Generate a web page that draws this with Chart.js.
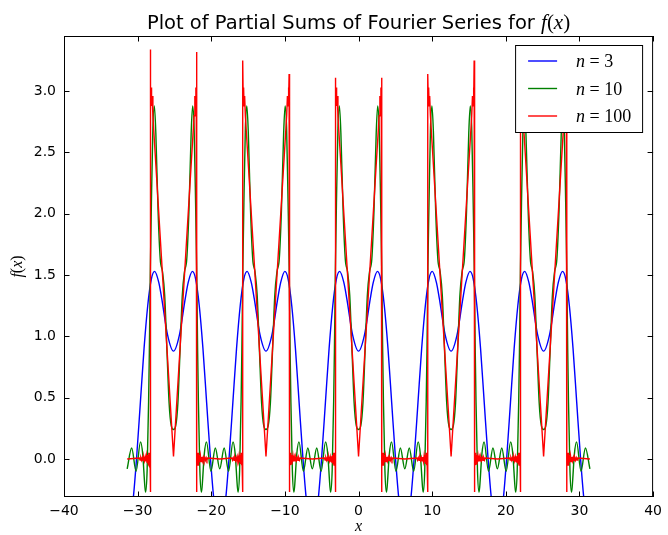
<!DOCTYPE html>
<html>
<head>
<meta charset="utf-8">
<script src="https://cdn.jsdelivr.net/npm/chart.js@4.4.1/dist/chart.umd.min.js"></script>
<style>
  html, body { margin: 0; padding: 0; background: #fff; }
</style>
</head>
<body>
<canvas id="fourier" width="668" height="535"></canvas>
<script>
// tick values
const xTicks = [-40, -30, -20, -10, 0, 10, 20, 30, 40];
const yTicks = [0, 0.5, 1, 1.5, 2, 2.5, 3];
const seriesLabels = ['n=3', 'n=10', 'n=100'];
const seriesColors = ['#0000ff', '#008000', '#ff0000'];

// n = 3  (x, f)
const blue = [
  [-31.42,-0.58],[-30.63,-0.34],[-30.13,0.02],[-29.63,0.46],[-29.13,0.90],[-28.63,1.25],[-28.13,1.47],[-27.69,1.53],[-27.13,1.44],[-26.73,1.31],[-25.93,1.01],[-25.13,0.88],[-24.33,1.01],[-23.53,1.31],[-23.13,1.44],[-22.57,1.53],[-22.13,1.47],[-21.63,1.25],[-21.13,0.90],[-20.63,0.46],[-20.13,0.02],[-19.63,-0.34],
  [-18.85,-0.58],[-18.07,-0.34],[-17.57,0.02],[-17.07,0.46],[-16.57,0.90],[-16.07,1.25],[-15.57,1.47],[-15.13,1.53],[-14.57,1.44],[-14.17,1.31],[-13.37,1.01],[-12.57,0.88],[-11.77,1.01],[-10.97,1.31],[-10.57,1.44],[-10.01,1.53],[-9.57,1.47],[-9.07,1.25],[-8.57,0.90],[-8.07,0.46],[-7.57,0.02],[-7.07,-0.34],
  [-6.28,-0.58],[-5.5,-0.34],[-5.0,0.02],[-4.5,0.46],[-4.0,0.90],[-3.5,1.25],[-3.0,1.47],[-2.56,1.53],[-2.0,1.44],[-1.6,1.31],[-0.8,1.01],[0,0.88],[0.8,1.01],[1.6,1.31],[2.0,1.44],[2.56,1.53],[3.0,1.47],[3.5,1.25],[4.0,0.90],[4.5,0.46],[5.0,0.02],[5.5,-0.34],
  [6.28,-0.58],[7.07,-0.34],[7.57,0.02],[8.07,0.46],[8.57,0.90],[9.07,1.25],[9.57,1.47],[10.01,1.53],[10.57,1.44],[10.97,1.31],[11.77,1.01],[12.57,0.88],[13.37,1.01],[14.17,1.31],[14.57,1.44],[15.13,1.53],[15.57,1.47],[16.07,1.25],[16.57,0.90],[17.07,0.46],[17.57,0.02],[18.07,-0.34],
  [18.85,-0.58],[19.63,-0.34],[20.13,0.02],[20.63,0.46],[21.13,0.90],[21.63,1.25],[22.13,1.47],[22.57,1.53],[23.13,1.44],[23.53,1.31],[24.33,1.01],[25.13,0.88],[25.93,1.01],[26.73,1.31],[27.13,1.44],[27.69,1.53],[28.13,1.47],[28.63,1.25],[29.13,0.90],[29.63,0.46],[30.13,0.02],[30.63,-0.34],[31.42,-0.58]
];

// n = 10
const green = [
  [-31.42,-0.08],[-30.81,0.09],[-30.21,-0.10],[-29.61,0.14],[-29.31,0.04],[-29.01,-0.23],[-28.91,-0.27],[-28.71,-0.09],[-28.51,0.47],[-28.41,0.87],[-28.27,1.57],[-28.13,2.09],[-27.93,2.70],[-27.73,2.88],[-27.53,2.66],[-27.23,2.03],[-26.93,1.63],[-26.63,1.53],[-26.33,1.34],[-26.03,0.90],[-25.73,0.46],[-25.43,0.27],[-25.13,0.24],[-24.83,0.27],[-24.53,0.46],[-24.23,0.90],[-23.93,1.34],[-23.63,1.53],[-23.33,1.63],[-23.03,2.03],[-22.73,2.66],[-22.53,2.88],[-22.33,2.70],[-22.13,2.09],[-21.99,1.57],[-21.85,0.87],[-21.75,0.47],[-21.55,-0.09],[-21.35,-0.27],[-21.25,-0.23],[-20.95,0.04],[-20.65,0.14],[-20.05,-0.10],[-19.45,0.09],
  [-18.85,-0.08],[-18.25,0.09],[-17.65,-0.10],[-17.05,0.14],[-16.75,0.04],[-16.45,-0.23],[-16.35,-0.27],[-16.15,-0.09],[-15.95,0.47],[-15.85,0.87],[-15.71,1.57],[-15.57,2.09],[-15.37,2.70],[-15.17,2.88],[-14.97,2.66],[-14.67,2.03],[-14.37,1.63],[-14.07,1.53],[-13.77,1.34],[-13.47,0.90],[-13.17,0.46],[-12.87,0.27],[-12.57,0.24],[-12.27,0.27],[-11.97,0.46],[-11.67,0.90],[-11.37,1.34],[-11.07,1.53],[-10.77,1.63],[-10.47,2.03],[-10.17,2.66],[-9.97,2.88],[-9.77,2.70],[-9.57,2.09],[-9.42,1.57],[-9.29,0.87],[-9.19,0.47],[-8.99,-0.09],[-8.79,-0.27],[-8.69,-0.23],[-8.39,0.04],[-8.09,0.14],[-7.49,-0.10],[-6.89,0.09],
  [-6.28,-0.08],[-5.68,0.09],[-5.08,-0.10],[-4.48,0.14],[-4.18,0.04],[-3.88,-0.23],[-3.78,-0.27],[-3.58,-0.09],[-3.38,0.47],[-3.28,0.87],[-3.14,1.57],[-3.0,2.09],[-2.8,2.70],[-2.6,2.88],[-2.4,2.66],[-2.1,2.03],[-1.8,1.63],[-1.5,1.53],[-1.2,1.34],[-0.9,0.90],[-0.6,0.46],[-0.3,0.27],[0,0.24],[0.3,0.27],[0.6,0.46],[0.9,0.90],[1.2,1.34],[1.5,1.53],[1.8,1.63],[2.1,2.03],[2.4,2.66],[2.6,2.88],[2.8,2.70],[3.0,2.09],[3.14,1.57],[3.28,0.87],[3.38,0.47],[3.58,-0.09],[3.78,-0.27],[3.88,-0.23],[4.18,0.04],[4.48,0.14],[5.08,-0.10],[5.68,0.09],
  [6.28,-0.08],[6.89,0.09],[7.49,-0.10],[8.09,0.14],[8.39,0.04],[8.69,-0.23],[8.79,-0.27],[8.99,-0.09],[9.19,0.47],[9.29,0.87],[9.42,1.57],[9.57,2.09],[9.77,2.70],[9.97,2.88],[10.17,2.66],[10.47,2.03],[10.77,1.63],[11.07,1.53],[11.37,1.34],[11.67,0.90],[11.97,0.46],[12.27,0.27],[12.57,0.24],[12.87,0.27],[13.17,0.46],[13.47,0.90],[13.77,1.34],[14.07,1.53],[14.37,1.63],[14.67,2.03],[14.97,2.66],[15.17,2.88],[15.37,2.70],[15.57,2.09],[15.71,1.57],[15.85,0.87],[15.95,0.47],[16.15,-0.09],[16.35,-0.27],[16.45,-0.23],[16.75,0.04],[17.05,0.14],[17.65,-0.10],[18.25,0.09],
  [18.85,-0.08],[19.45,0.09],[20.05,-0.10],[20.65,0.14],[20.95,0.04],[21.25,-0.23],[21.35,-0.27],[21.55,-0.09],[21.75,0.47],[21.85,0.87],[21.99,1.57],[22.13,2.09],[22.33,2.70],[22.53,2.88],[22.73,2.66],[23.03,2.03],[23.33,1.63],[23.63,1.53],[23.93,1.34],[24.23,0.90],[24.53,0.46],[24.83,0.27],[25.13,0.24],[25.43,0.27],[25.73,0.46],[26.03,0.90],[26.33,1.34],[26.63,1.53],[26.93,1.63],[27.23,2.03],[27.53,2.66],[27.73,2.88],[27.93,2.70],[28.13,2.09],[28.27,1.57],[28.41,0.87],[28.51,0.47],[28.71,-0.09],[28.91,-0.27],[29.01,-0.23],[29.31,0.04],[29.61,0.14],[30.21,-0.10],[30.81,0.09],[31.42,-0.08]
];

// n = 100 (jumps, with the ringing band next to each one)
const red = [
  [-31.42,0],
  [-29.77,0.008],[-29.67,-0.009],[-29.57,0.009],[-29.47,-0.01],[-29.37,0.011],[-29.27,-0.012],[-29.17,0.013],[-29.07,-0.015],[-28.97,0.017],[-28.87,-0.02],[-28.79,0.023],[-28.71,-0.027],[-28.64,0.032],[-28.57,-0.04],[-28.51,0.05],[-28.46,-0.05],[-28.41,0.05],[-28.37,-0.05],[-28.33,0.05],[-28.30,-0.05],[-28.28,-0.27],
  [-28.26,3.34],[-28.22,2.92],[-28.17,3.03],[-28.11,2.88],[-28.03,2.96],[-27.93,2.80],[-27.77,2.64],
  [-25.13,0.02],
  [-22.49,2.64],[-22.33,2.80],[-22.23,2.96],[-22.15,2.88],[-22.09,3.03],[-22.04,2.92],[-22.00,3.32],
  [-21.98,-0.27],[-21.96,-0.05],[-21.93,0.05],[-21.89,-0.05],[-21.85,0.05],[-21.80,-0.05],[-21.75,0.05],[-21.69,-0.04],[-21.62,0.032],[-21.55,-0.027],[-21.47,0.023],[-21.39,-0.02],[-21.29,0.017],[-21.19,-0.015],[-21.09,0.013],[-20.99,-0.012],[-20.89,0.011],[-20.79,-0.01],[-20.69,0.009],[-20.59,-0.009],[-20.49,0.008],
  [-18.85,0],
  [-17.21,0.008],[-17.11,-0.009],[-17.01,0.009],[-16.91,-0.01],[-16.81,0.011],[-16.71,-0.012],[-16.61,0.013],[-16.51,-0.015],[-16.41,0.017],[-16.31,-0.02],[-16.23,0.023],[-16.15,-0.027],[-16.08,0.032],[-16.01,-0.04],[-15.95,0.05],[-15.90,-0.05],[-15.85,0.05],[-15.81,-0.05],[-15.77,0.05],[-15.74,-0.05],[-15.72,-0.27],
  [-15.70,3.25],[-15.66,2.92],[-15.61,3.03],[-15.55,2.88],[-15.47,2.96],[-15.37,2.80],[-15.21,2.64],
  [-12.57,0.02],
  [-9.92,2.64],[-9.76,2.80],[-9.66,2.96],[-9.58,2.88],[-9.52,3.03],[-9.47,2.92],[-9.43,3.14],
  [-9.41,-0.27],[-9.39,-0.05],[-9.36,0.05],[-9.32,-0.05],[-9.28,0.05],[-9.23,-0.05],[-9.18,0.05],[-9.12,-0.04],[-9.05,0.032],[-8.98,-0.027],[-8.90,0.023],[-8.82,-0.02],[-8.72,0.017],[-8.62,-0.015],[-8.52,0.013],[-8.42,-0.012],[-8.32,0.011],[-8.22,-0.01],[-8.12,0.009],[-8.02,-0.009],[-7.92,0.008],
  [-6.28,0],
  [-4.64,0.008],[-4.54,-0.009],[-4.44,0.009],[-4.34,-0.01],[-4.24,0.011],[-4.14,-0.012],[-4.04,0.013],[-3.94,-0.015],[-3.84,0.017],[-3.74,-0.02],[-3.66,0.023],[-3.58,-0.027],[-3.51,0.032],[-3.44,-0.04],[-3.38,0.05],[-3.33,-0.05],[-3.28,0.05],[-3.24,-0.05],[-3.20,0.05],[-3.17,-0.05],[-3.15,-0.27],
  [-3.13,3.11],[-3.09,2.92],[-3.04,3.03],[-2.98,2.88],[-2.90,2.96],[-2.80,2.80],[-2.64,2.64],
  [0,0.02],
  [2.64,2.64],[2.80,2.80],[2.90,2.96],[2.98,2.88],[3.04,3.03],[3.09,2.92],[3.13,3.11],
  [3.15,-0.27],[3.17,-0.05],[3.20,0.05],[3.24,-0.05],[3.28,0.05],[3.33,-0.05],[3.38,0.05],[3.44,-0.04],[3.51,0.032],[3.58,-0.027],[3.66,0.023],[3.74,-0.02],[3.84,0.017],[3.94,-0.015],[4.04,0.013],[4.14,-0.012],[4.24,0.011],[4.34,-0.01],[4.44,0.009],[4.54,-0.009],[4.64,0.008],
  [6.28,0],
  [7.92,0.008],[8.02,-0.009],[8.12,0.009],[8.22,-0.01],[8.32,0.011],[8.42,-0.012],[8.52,0.013],[8.62,-0.015],[8.72,0.017],[8.82,-0.02],[8.90,0.023],[8.98,-0.027],[9.05,0.032],[9.12,-0.04],[9.18,0.05],[9.23,-0.05],[9.28,0.05],[9.32,-0.05],[9.36,0.05],[9.39,-0.05],[9.41,-0.27],
  [9.43,3.14],[9.47,2.92],[9.52,3.03],[9.58,2.88],[9.66,2.96],[9.76,2.80],[9.92,2.64],
  [12.57,0.02],
  [15.21,2.64],[15.37,2.80],[15.47,2.96],[15.55,2.88],[15.61,3.03],[15.66,2.92],[15.70,3.25],
  [15.72,-0.27],[15.74,-0.05],[15.77,0.05],[15.81,-0.05],[15.85,0.05],[15.90,-0.05],[15.95,0.05],[16.01,-0.04],[16.08,0.032],[16.15,-0.027],[16.23,0.023],[16.31,-0.02],[16.41,0.017],[16.51,-0.015],[16.61,0.013],[16.71,-0.012],[16.81,0.011],[16.91,-0.01],[17.01,0.009],[17.11,-0.009],[17.21,0.008],
  [18.85,0],
  [20.49,0.008],[20.59,-0.009],[20.69,0.009],[20.79,-0.01],[20.89,0.011],[20.99,-0.012],[21.09,0.013],[21.19,-0.015],[21.29,0.017],[21.39,-0.02],[21.47,0.023],[21.55,-0.027],[21.62,0.032],[21.69,-0.04],[21.75,0.05],[21.80,-0.05],[21.85,0.05],[21.89,-0.05],[21.93,0.05],[21.96,-0.05],[21.98,-0.27],
  [22.00,3.32],[22.04,2.92],[22.09,3.03],[22.15,2.88],[22.23,2.96],[22.33,2.80],[22.49,2.64],
  [25.13,0.02],
  [27.77,2.64],[27.93,2.80],[28.03,2.96],[28.11,2.88],[28.17,3.03],[28.22,2.92],[28.26,3.34],
  [28.28,-0.27],[28.30,-0.05],[28.33,0.05],[28.37,-0.05],[28.41,0.05],[28.46,-0.05],[28.51,0.05],[28.57,-0.04],[28.64,0.032],[28.71,-0.027],[28.79,0.023],[28.87,-0.02],[28.97,0.017],[29.07,-0.015],[29.17,0.013],[29.27,-0.012],[29.37,0.011],[29.47,-0.01],[29.57,0.009],[29.67,-0.009],[29.77,0.008],
  [31.42,0]
];

const SANS = '"DejaVu Sans", sans-serif';
const SERIF = '"Liberation Serif", "DejaVu Serif", serif';

function minus(s) { return String(s).replace('-', '\u2212'); }

// text made of pieces with their own font (for the math bits)
function partsWidth(ctx, parts) {
  let w = 0;
  parts.forEach(p => { ctx.font = p[1]; w += ctx.measureText(p[0]).width; });
  return w;
}
function drawParts(ctx, parts, x, y) {
  parts.forEach(p => {
    ctx.font = p[1];
    ctx.fillText(p[0], x, y);
    x += ctx.measureText(p[0]).width;
  });
}

const decorations = {
  id: 'decorations',
  afterDraw(chart) {
    const { ctx, chartArea: a, scales } = chart;
    ctx.save();
    ctx.strokeStyle = '#000';
    ctx.fillStyle = '#000';
    ctx.lineWidth = 1;

    // frame
    ctx.strokeRect(a.left + 0.5, a.top + 0.5, a.right - a.left - 1, a.bottom - a.top - 1);

    // inward ticks, all four sides
    const tl = 5.5;
    ctx.beginPath();
    xTicks.forEach(v => {
      const px = Math.round(scales.x.getPixelForValue(v)) + 0.5;
      ctx.moveTo(px, a.bottom); ctx.lineTo(px, a.bottom - tl);
      ctx.moveTo(px, a.top); ctx.lineTo(px, a.top + tl);
    });
    yTicks.forEach(v => {
      const py = Math.round(scales.y.getPixelForValue(v)) + 0.5;
      ctx.moveTo(a.left, py); ctx.lineTo(a.left + tl, py);
      ctx.moveTo(a.right, py); ctx.lineTo(a.right - tl, py);
    });
    ctx.stroke();

    // title
    ctx.textBaseline = 'alphabetic';
    const title = [
      ['Plot of Partial Sums of Fourier Series for ', '19.5px ' + SANS],
      ['f', 'italic 21px ' + SERIF], ['(', '21px ' + SERIF],
      ['x', 'italic 21px ' + SERIF], [')', '21px ' + SERIF]
    ];
    drawParts(ctx, title, (a.left + a.right) / 2 - partsWidth(ctx, title) / 2, 29);

    // x label
    const xl = [['x', 'italic 16px ' + SERIF]];
    drawParts(ctx, xl, (a.left + a.right) / 2 - partsWidth(ctx, xl) / 2, 531);

    // y label, rotated
    const yl = [['f', 'italic 16px ' + SERIF], ['(', '16px ' + SERIF],
                ['x', 'italic 16px ' + SERIF], [')', '16px ' + SERIF]];
    ctx.save();
    ctx.translate(22, (a.top + a.bottom) / 2);
    ctx.rotate(-Math.PI / 2);
    drawParts(ctx, yl, -partsWidth(ctx, yl) / 2, 0);
    ctx.restore();

    // legend box, upper right
    const bw = 128, bh = 88;
    const bx = a.right - 10 - bw, by = a.top + 9;
    ctx.fillStyle = '#fff';
    ctx.fillRect(bx, by, bw, bh);
    ctx.strokeRect(bx + 0.5, by + 0.5, bw - 1, bh - 1);
    chart.data.datasets.forEach((ds, i) => {
      const ry = by + 16 + i * 27.5;
      ctx.strokeStyle = ds.borderColor;
      ctx.lineWidth = 1.4;
      ctx.beginPath();
      ctx.moveTo(bx + 13, ry); ctx.lineTo(bx + 42, ry);
      ctx.stroke();
      ctx.fillStyle = '#000';
      const [lhs, rhs] = ds.label.split('=');
      drawParts(ctx, [[lhs, 'italic 18px ' + SERIF], [' = ', '18px ' + SERIF], [rhs, '18px ' + SERIF]],
        bx + 61, ry + 6);
    });
    ctx.restore();
  }
};

const datasets = [blue, green, red].map((pts, i) => ({
  label: seriesLabels[i],
  data: pts,
  borderColor: seriesColors[i],
  borderWidth: 1.4,
  pointRadius: 0,
  fill: false,
  tension: i < 2 ? 0.4 : 0,
  cubicInterpolationMode: i < 2 ? 'monotone' : 'default',
  order: 3 - i
}));

new Chart(document.getElementById('fourier'), {
  type: 'line',
  data: { datasets },
  options: {
    responsive: false,
    animation: false,
    devicePixelRatio: 1,
    events: [],
    layout: { padding: { top: 36, right: 10, left: 0, bottom: 0 } },
    plugins: { legend: { display: false }, tooltip: { enabled: false }, title: { display: false } },
    scales: {
      x: {
        type: 'linear', min: -40, max: 40,
        grid: { display: false, drawTicks: false },
        border: { display: false },
        ticks: { color: '#000', font: { family: SANS, size: 14 }, padding: 6,
                 autoSkip: false, maxRotation: 0, callback: v => minus(v) },
        afterBuildTicks: s => { s.ticks = xTicks.map(v => ({ value: v })); },
        afterFit: s => { s.height = 38; }
      },
      y: {
        type: 'linear', min: -0.31, max: 3.45,
        grid: { display: false, drawTicks: false },
        border: { display: false },
        ticks: { color: '#000', font: { family: SANS, size: 14 }, padding: 8,
                 callback: v => minus(v.toFixed(1)) },
        afterBuildTicks: s => { s.ticks = yTicks.map(v => ({ value: v })); },
        afterFit: s => { s.width = 64; }
      }
    }
  },
  plugins: [decorations]
});
</script>
</body>
</html>
